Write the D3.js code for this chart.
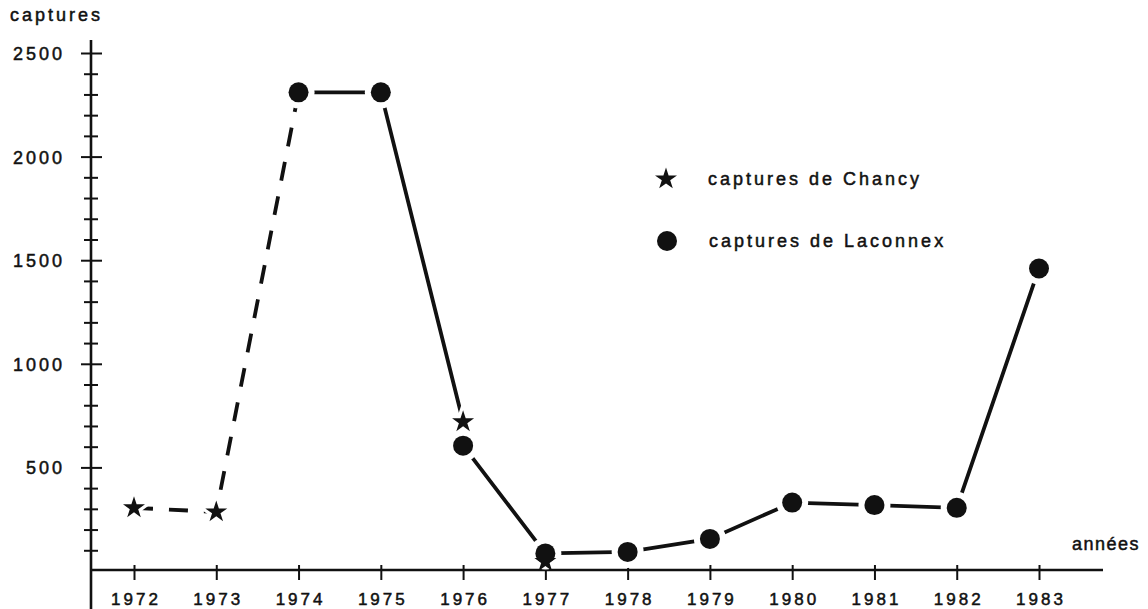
<!DOCTYPE html>
<html>
<head>
<meta charset="utf-8">
<script src="https://cdn.jsdelivr.net/npm/d3@7"></script>
<style>
  body { margin: 0; background: #fff; }
  svg text { font-family: "Liberation Sans", Arial, sans-serif; fill: #111; stroke: #111; stroke-width: 0.5px; letter-spacing: 3px; }
</style>
</head>
<body>
<div class="content-container"></div>
<script>
    // values
    const years = [1972, 1973, 1974, 1975, 1976, 1977, 1978, 1979, 1980, 1981, 1982, 1983];
    const chancy = [305, 285, null, null, 720, 45, null, null, null, null, null, null];
    const laconnex = [null, null, 2310, 2310, 605, 85, 92, 155, 330, 318, 305, 1460];
    const yTicks = [0, 100, 200, 300, 400, 500, 600, 700, 800, 900, 1000, 1100, 1200, 1300, 1400,
                    1500, 1600, 1700, 1800, 1900, 2000, 2100, 2200, 2300, 2400, 2500];
    const yLabels = [500, 1000, 1500, 2000, 2500];
    // which points each line joins: [year index, series]
    const dashedLine = [[0, "c"], [1, "c"], [2, "l"]];
    const solidLines = [
      [[2, "l"], [3, "l"], [4, "c"]],
      [[4, "l"], [5, "l"], [6, "l"], [7, "l"], [8, "l"], [9, "l"], [10, "l"], [11, "l"]]
    ];

    const width = 1148;
    const height = 609;
    const axisX = 91;

    const xScale = d3.scalePoint()
                     .domain(years)
                     .range([134, 1039]);

    const yScale = d3.scaleLinear()
                     .domain([0, 2500])
                     .range([571, 53]);

    const valueOf = function(p) {
      return p[1] === "c" ? chancy[p[0]] : laconnex[p[0]];
    };

    const chart = d3.select(".content-container")
                  .append("svg")
                  .attr("width", width)
                  .attr("height", height);

    //Y AXIS

    const yAxis = d3.axisLeft(yScale)
                    .tickValues(yTicks)
                    .tickFormat((d) => yLabels.includes(d) ? d : "");

    const yg = chart.append("g")
      .attr("transform", "translate(" + axisX + ",0)")
      .call(yAxis);
    yg.select(".domain").remove();
    yg.selectAll(".tick line")
      .attr("x1", (d) => d % 500 === 0 ? -10 : -7)
      .attr("x2", (d) => d % 500 === 0 ? 11 : 7)
      .attr("stroke", "#111")
      .attr("stroke-width", 2);
    yg.selectAll(".tick text")
      .attr("x", -26)
      .attr("dy", "0.36em")
      .style("font-size", "18px");
    yg.selectAll(".tick").filter((d) => d === 0).select("line").remove();

    chart.append("line")
      .attr("x1", axisX).attr("x2", axisX)
      .attr("y1", 40).attr("y2", 609)
      .attr("stroke", "#111")
      .attr("stroke-width", 2.6);

    //X AXIS

    const xAxis = d3.axisBottom(xScale);
    const xg = chart.append("g")
      .attr("transform", "translate(0," + 570 + ")")
      .call(xAxis);
    xg.select(".domain").remove();
    xg.selectAll(".tick line")
      .attr("y1", -5)
      .attr("y2", 10)
      .attr("stroke", "#111")
      .attr("stroke-width", 2);
    xg.selectAll(".tick text")
      .attr("y", 35)
      .attr("dy", 0)
      .attr("dx", "1.5px")
      .style("font-size", "17px");

    chart.append("line")
      .attr("x1", axisX).attr("x2", 1103)
      .attr("y1", 570).attr("y2", 570)
      .attr("stroke", "#111")
      .attr("stroke-width", 2.6);

    //AXIS TITLES

    chart.append("text")
      .attr("x", 10)
      .attr("y", 21)
      .style("font-size", "18px")
      .text("captures");

    chart.append("text")
      .attr("x", 1072)
      .attr("y", 550)
      .style("font-size", "18px")
      .style("letter-spacing", "1.5px")
      .text("années");

    //LINES

    const line = d3.line()
      .x((p) => xScale(years[p[0]]))
      .y((p) => yScale(valueOf(p)));

    chart.append("path")
      .attr("d", line(dashedLine))
      .attr("fill", "none")
      .attr("stroke", "#111")
      .attr("stroke-width", 3.8)
      .attr("stroke-dasharray", "19,16");

    solidLines.forEach(function(pts) {
      chart.append("path")
        .attr("d", line(pts))
        .attr("fill", "none")
        .attr("stroke", "#111")
        .attr("stroke-width", 3.8);
    });

    //MARKERS (white halo leaves the small gap where lines meet them)

    const star = d3.symbol().type(d3.symbolStar).size(150);
    const starHalo = d3.symbol().type(d3.symbolStar).size(560);

    const chancyPts = years.map((yr, i) => [i, chancy[i]]).filter((d) => d[1] !== null);
    const laconnexPts = years.map((yr, i) => [i, laconnex[i]]).filter((d) => d[1] !== null);

    chart.selectAll("circle.halo")
      .data(laconnexPts)
      .enter()
      .append("circle")
      .attr("class", "halo")
      .attr("cx", (d) => xScale(years[d[0]]))
      .attr("cy", (d) => yScale(d[1]))
      .attr("r", 16)
      .attr("fill", "#fff");

    chart.selectAll("path.starhalo")
      .data(chancyPts.filter((d) => d[0] !== 5))
      .enter()
      .append("path")
      .attr("class", "starhalo")
      .attr("d", starHalo)
      .attr("transform", (d) => "translate(" + xScale(years[d[0]]) + "," + yScale(d[1]) + ")")
      .attr("fill", "#fff");

    chart.selectAll("path.star")
      .data(chancyPts)
      .enter()
      .append("path")
      .attr("class", "star")
      .attr("d", star)
      .attr("transform", (d) => "translate(" + xScale(years[d[0]]) + "," + yScale(d[1]) + ")")
      .attr("fill", "#111");

    chart.selectAll("circle.dot")
      .data(laconnexPts)
      .enter()
      .append("circle")
      .attr("class", "dot")
      .attr("cx", (d) => xScale(years[d[0]]))
      .attr("cy", (d) => yScale(d[1]))
      .attr("r", 10)
      .attr("fill", "#111");

    //LEGEND

    chart.append("path")
      .attr("d", star)
      .attr("transform", "translate(666,179)")
      .attr("fill", "#111");

    chart.append("text")
      .attr("x", 708)
      .attr("y", 185)
      .style("font-size", "18px")
      .text("captures de Chancy");

    chart.append("circle")
      .attr("cx", 667)
      .attr("cy", 241)
      .attr("r", 10)
      .attr("fill", "#111");

    chart.append("text")
      .attr("x", 709)
      .attr("y", 247)
      .style("font-size", "18px")
      .text("captures de Laconnex");
</script>
</body>
</html>
